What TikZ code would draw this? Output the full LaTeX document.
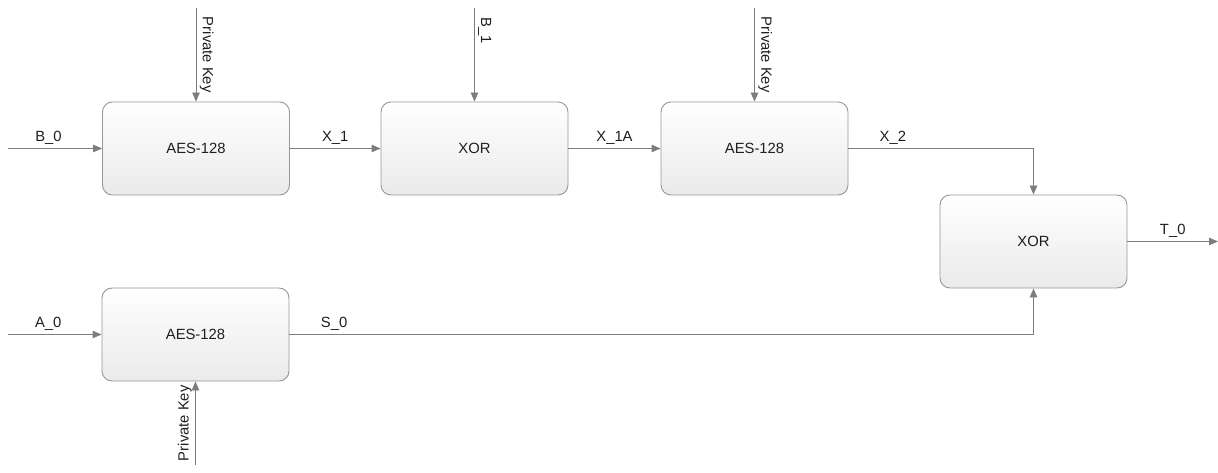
\documentclass[tikz,border=0pt]{standalone}
\usepackage{fontspec}
\setmainfont{Liberation Sans}
\usetikzlibrary{arrows.meta,positioning}
\definecolor{wiregray}{RGB}{125,125,125}
\definecolor{edgegray}{RGB}{150,150,150}
\definecolor{shadegray}{RGB}{234,234,234}
\definecolor{textdark}{RGB}{30,30,30}
\begin{document}
\begin{tikzpicture}[x=1pt,y=-1pt,
    font=\fontsize{14.8}{17}\selectfont, text=textdark,
    block/.style={draw=edgegray, line width=0.9pt, rounded corners=10pt,
      top color=white, bottom color=shadegray,
      minimum width=187pt, minimum height=93pt},
    wire/.style={draw=wiregray, line width=0.9pt,
      -{Triangle[length=9pt,width=7.5pt]}}]

  \useasboundingbox (0,0) rectangle (1218,473);

  % blocks
  \node[block] (aesA) at (196,148.5)    {AES-128};
  \node[block] (xorA) at (474.5,148.5)  {XOR};
  \node[block] (aesB) at (754.5,148.5)  {AES-128};
  \node[block] (xorB) at (1033.5,241.5) {XOR};
  \node[block] (aesC) at (195.5,334.5)  {AES-128};

  % free ends
  \coordinate (b0)   at (8,148.5);
  \coordinate (keyA) at (196,8);
  \coordinate (b1)   at (474.5,8);
  \coordinate (keyB) at (754.5,8);
  \coordinate (t0)   at (1218,241.5);
  \coordinate (a0)   at (8,334.5);
  \coordinate (keyC) at (195.5,465);

  % connectors
  \draw[wire] (b0)   -- node[above, pos=0.43] {B\_0} (aesA);
  \draw[wire] (keyA) -- node[sloped, above] {Private Key} (aesA);
  \draw[wire] (aesA) -- node[above] {X\_1} (xorA);
  \draw[wire] (b1)   -- node[sloped, above, pos=0.24] {B\_1} (xorA);
  \draw[wire] (xorA) -- node[above] {X\_1A} (aesB);
  \draw[wire] (keyB) -- node[sloped, above] {Private Key} (aesB);
  \draw[wire] (aesB) -| node[above, pos=0.12] {X\_2} (xorB);
  \draw[wire] (xorB) -- node[above] {T\_0} (t0);
  \draw[wire] (a0)   -- node[above, pos=0.43] {A\_0} (aesC);
  \draw[wire] (keyC) -- node[sloped, above] {Private Key} (aesC);
  \draw[wire] (aesC) -| node[above, pos=0.03] {S\_0} (xorB);

\end{tikzpicture}
\end{document}
